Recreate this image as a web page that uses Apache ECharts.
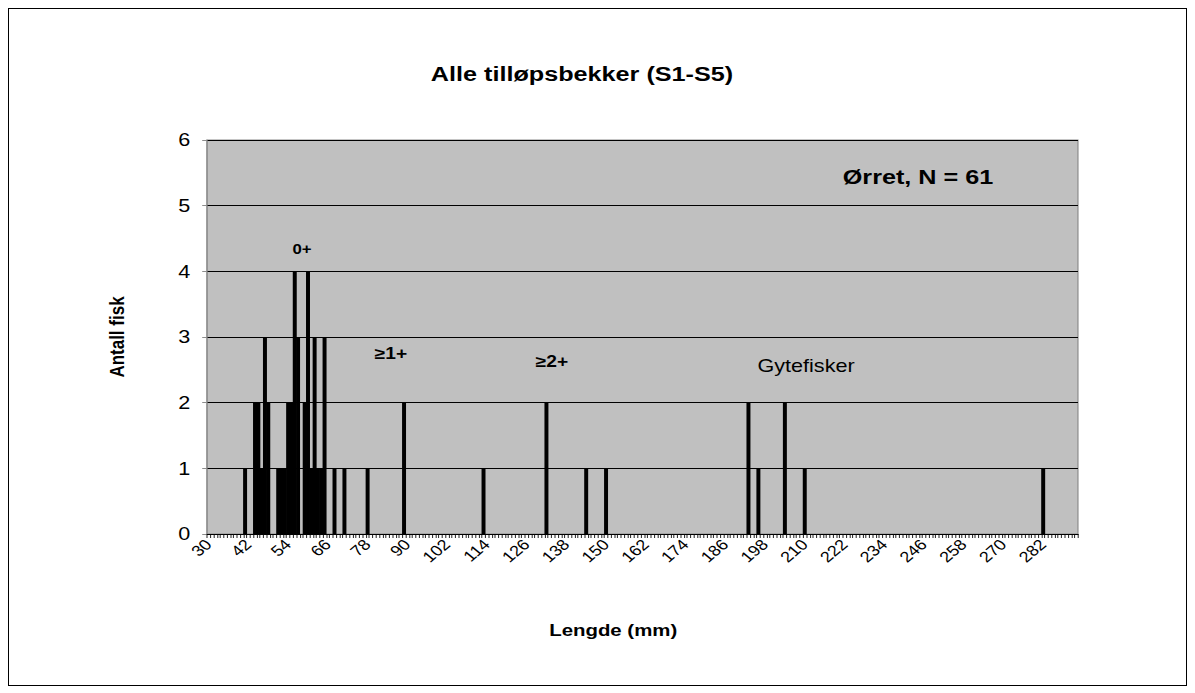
<!DOCTYPE html>
<html>
<head>
<meta charset="utf-8">
<script src="https://cdn.jsdelivr.net/npm/echarts@6/dist/echarts.min.js"></script>
<style>
  html, body { margin: 0; padding: 0; background: #ffffff; }
  #page { position: relative; width: 1195px; height: 693px; overflow: hidden; }
  /* The chart is laid out narrower and widened on screen, so text and marks share one horizontal scale */
  #chart { position: absolute; left: 0; top: 0; width: 996px; height: 693px; transform: scaleX(1.2); transform-origin: 0 0; }
  #frame { position: absolute; left: 8px; top: 8px; width: 1177px; height: 676px; border: 1px solid #000000; pointer-events: none; }
</style>
</head>
<body>
<div id="page">
  <div id="chart"></div>
  <div id="frame"></div>
</div>
<script>
// Length classes (mm) that hold fish, and the number of fish in each
const lengthMm  = [41, 44, 45, 46, 47, 48, 51, 52, 53, 54, 55, 56, 57, 59, 60, 61, 62, 63, 64, 65, 68, 71, 78, 89, 113, 132, 144, 150, 193, 196, 204, 210, 282];
const fishCount = [ 1,  2,  2,  1,  3,  2,  1,  1,  1,  2,  2,  4,  3,  2,  4,  1,  3,  1,  1,  3,  1,  1,  1,  2,   1,   2,   1,   1,   2,   1,   2,   1,   1];

// Category axis runs over every whole millimetre in this range
const axisFirstMm = 30;
const axisLastMm = 292;
const xLabelStep = 12;

const yMax = 6;
const chartTitle = 'Alle tilløpsbekker (S1-S5)';
const xName = 'Lengde (mm)';
const yName = 'Antall fisk';
const sampleNote = 'Ørret, N = 61';
const ageGroups = ['0+', '≥1+', '≥2+', 'Gytefisker'];

const categories = [];
for (let mm = axisFirstMm; mm <= axisLastMm; mm++) categories.push(String(mm));
const countByLength = {};
lengthMm.forEach((mm, i) => { countByLength[mm] = fishCount[i]; });
const barValues = categories.map(c => (c in countByLength ? countByLength[c] : null));

const FONT = 'Liberation Sans, Arial, sans-serif';
const chart = echarts.init(document.getElementById('chart'), null, { renderer: 'svg' });

function label(text, x, y, font, extra) {
  return Object.assign({
    type: 'text', x: x, y: y,
    style: { text: text, font: font, fill: '#000000', align: 'center', verticalAlign: 'middle' }
  }, extra || {});
}

chart.setOption({
  animation: false,
  backgroundColor: '#ffffff',
  grid: { left: 172.5, right: 97.7, top: 140, bottom: 159, show: true, backgroundColor: '#c0c0c0', borderColor: '#8c8c8c', borderWidth: 1 },
  xAxis: {
    type: 'category',
    data: categories,
    boundaryGap: true,
    axisLine: { lineStyle: { color: '#000000', width: 1 } },
    axisTick: { show: true, interval: 0, length: 4, lineStyle: { color: '#000000', width: 0.8 } },
    axisLabel: {
      interval: xLabelStep - 1, rotate: 45, margin: 8,
      fontFamily: FONT, fontSize: 15, color: '#000000'
    },
    splitLine: { show: false }
  },
  yAxis: {
    type: 'value', min: 0, max: yMax, interval: 1,
    axisLine: { show: true, lineStyle: { color: '#8c8c8c', width: 1 } },
    axisTick: { show: true, length: 4, lineStyle: { color: '#8c8c8c' } },
    axisLabel: { margin: 14, fontFamily: FONT, fontSize: 18, color: '#000000' },
    splitLine: { show: true, lineStyle: { color: '#000000', width: 1 } }
  },
  series: [{
    type: 'bar',
    data: barValues,
    barWidth: '120%',
    itemStyle: { color: '#000000', borderWidth: 0 }
  }],
  graphic: [
    label(chartTitle, 485, 74, 'bold 21px ' + FONT),
    label(xName, 511, 630, 'bold 17px ' + FONT),
    label(yName, 97.5, 337, 'bold 17px ' + FONT, { rotation: Math.PI / 2 }),
    label(sampleNote, 765, 177, 'bold 21px ' + FONT),
    label(ageGroups[0], 251.7, 249, 'bold 14px ' + FONT),
    label(ageGroups[1], 325.8, 354, 'bold 16px ' + FONT),
    label(ageGroups[2], 460, 362, 'bold 16px ' + FONT),
    label(ageGroups[3], 671.7, 366, '18px ' + FONT)
  ]
});
</script>
</body>
</html>
